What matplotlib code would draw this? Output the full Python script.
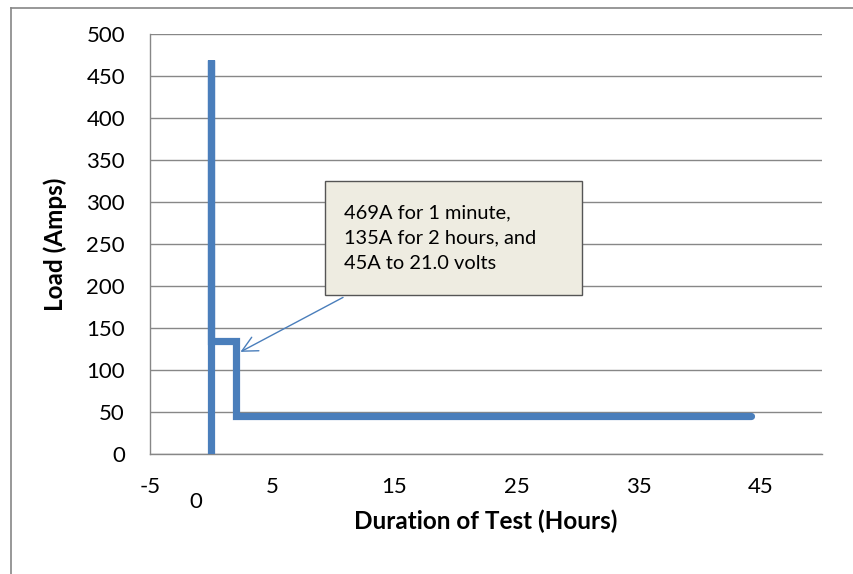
import matplotlib.pyplot as plt
from matplotlib.patches import Rectangle
from matplotlib.lines import Line2D

plt.rcParams["font.family"] = ["Lato", "DejaVu Sans"]
plt.rcParams["axes.unicode_minus"] = False

# load profile: step points (hours, amps)
hours = [0, 0, 0, 2, 2, 44.2]
amps = [0, 469, 135, 135, 45, 45]

x_ticks = [-5, 5, 15, 25, 35, 45]
y_ticks = [0, 50, 100, 150, 200, 250, 300, 350, 400, 450, 500]

note = "469A for 1 minute,\n135A for 2 hours, and\n45A to 21.0 volts"

blue = "#4A7EBB"
grid_grey = "#878787"

fig = plt.figure(figsize=(8.54, 5.74), dpi=100)
ax = fig.add_axes([150 / 854, 1 - 454 / 574, 672 / 854, 420 / 574])

ax.plot(hours, amps, color=blue, lw=5.2, solid_capstyle="round",
        solid_joinstyle="miter", zorder=3)

ax.set_xlim(-5, 50)
ax.set_ylim(0, 500)
ax.set_xticks(x_ticks)
ax.set_yticks(y_ticks)
ax.grid(axis="y", color=grid_grey, lw=1)
ax.set_axisbelow(True)
ax.tick_params(axis="both", length=0, labelsize=16)
ax.tick_params(axis="x", pad=16.5)
ax.tick_params(axis="y", pad=18)

for side in ["top", "right"]:
    ax.spines[side].set_visible(False)
for side in ["left", "bottom"]:
    ax.spines[side].set_color(grid_grey)
    ax.spines[side].set_linewidth(1)

ax.set_xlabel("Duration of Test (Hours)", fontsize=17.5, fontweight="bold", labelpad=9)
ax.set_ylabel("Load (Amps)", fontsize=17.5, fontweight="bold", labelpad=14)

# callout box with arrow
ax.add_patch(Rectangle((9.3, 189), 21.05, 136, facecolor="#EEECE1",
                       edgecolor="#555555", lw=1, zorder=4))
ax.text(10.9, 257, note, fontsize=14.4, va="center", ha="left",
        linespacing=1.6, zorder=5)
ax.annotate("", xy=(2.2, 120), xytext=(11.0, 188),
            arrowprops=dict(arrowstyle="->,head_length=1.1,head_width=0.55",
                            color=blue, lw=1), zorder=5)

# stray zero label under the axis
fig.text(196 / 854, 1 - 502 / 574, "0", fontsize=16, ha="center", va="center")

# chart frame
fig.add_artist(Line2D([11 / 854, 11 / 854], [0, 1 - 8 / 574], color="#868686", lw=1.2))
fig.add_artist(Line2D([11 / 854, 1], [1 - 8 / 574, 1 - 8 / 574], color="#868686", lw=1.2))

fig.savefig("out.png", dpi=100)
